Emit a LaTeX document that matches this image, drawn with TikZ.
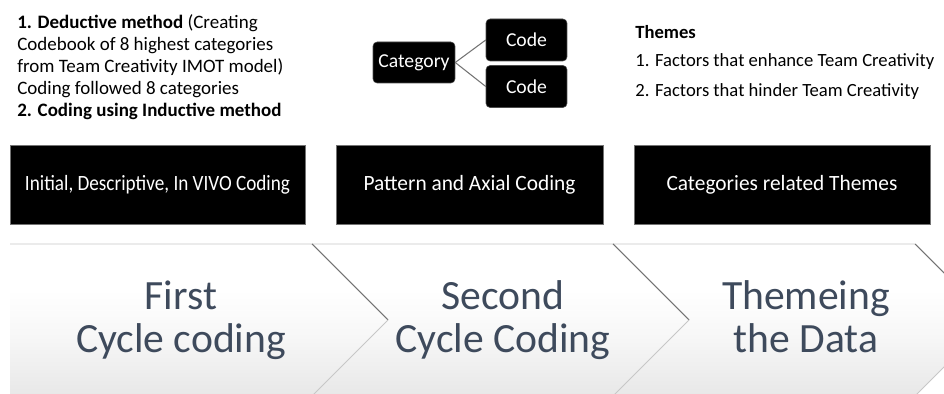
\documentclass[tikz,border=0pt]{standalone}
\usepackage{fontspec}
\setmainfont{Carlito}
\definecolor{slate}{RGB}{62,74,92}
\pgfdeclareverticalshading{band}{100bp}{color(0bp)=(black!17); color(45bp)=(black!3); color(60bp)=(white); color(100bp)=(white)}
\newcommand{\lnfix}{\vphantom{hg}}
\begin{document}
\begin{tikzpicture}[x=0.02cm,y=-0.02cm,
  catbox/.style={fill=black,text=white,rounded corners=2.3pt,inner sep=0pt,draw=black!70,line width=0.3pt,font=\fontsize{11.2}{13}\selectfont},
  stagebox/.style={fill=black,text=white,inner sep=0pt,draw=black!55,line width=0.4pt,minimum height=1.58cm,font=\fontsize{12.4}{14}\selectfont},
  conn/.style={draw=black!55,line width=0.6pt},
  chev/.style={shading=band},
  sepup/.style={draw=black!55,line width=0.6pt},
  seplo/.style={draw=black!22,line width=0.6pt},
  stagetxt/.style={text=slate,align=center,font=\fontsize{23.7}{24.4}\selectfont},
  toptxt/.style={inner sep=0pt,font=\fontsize{10.6}{12.6}\selectfont}]
\useasboundingbox (0,0) rectangle (944,394);
\begin{scope}
\clip (0,0) rectangle (944,394);
% chevrons
\path[chev] (10,244) -- (312,244) -- (388,320) -- (312,396) -- (10,396) -- cycle;
\path[chev] (312,244) -- (613,244) -- (689,320) -- (613,396) -- (312,396) -- (388,320) -- cycle;
\path[chev] (613,244) -- (915,244) -- (991,320) -- (915,396) -- (613,396) -- (689,320) -- cycle;
\draw[black!8,line width=0.6pt] (10,244) -- (915,244);
\coordinate (t1) at (312,244); \coordinate (p1) at (388,320); \coordinate (b1) at (312,396);
\coordinate (t2) at (613,244); \coordinate (p2) at (689,320); \coordinate (b2) at (613,396);
\coordinate (t3) at (915,244); \coordinate (p3) at (991,320); \coordinate (b3) at (915,396);
\draw[sepup] (t1) -- (p1); \draw[seplo] (p1) -- (b1);
\draw[sepup] (t2) -- (p2); \draw[seplo] (p2) -- (b2);
\draw[sepup] (t3) -- (p3); \draw[seplo] (p3) -- (b3);
\end{scope}
\node[stagetxt] (s1) at (181,320) {First\lnfix\\Cycle coding\lnfix};
\node[stagetxt] (s2) at (503,320) {Second\lnfix\\Cycle Coding\lnfix};
\node[stagetxt] (s3) at (806,320) {Themeing\lnfix\\the Data\lnfix};
% stage boxes
\node[stagebox,minimum width=5.9cm] (b1box) at (157.5,184.5) {\scalebox{0.88}[1]{Initial, Descriptive, In VIVO Coding}};
\node[stagebox,minimum width=5.34cm] (b2box) at (469.5,184.5) {\scalebox{0.98}[1]{Pattern and Axial Coding}};
\node[stagebox,minimum width=5.92cm] (b3box) at (782,184.5) {\scalebox{0.98}[1]{Categories related Themes}};
% top left text
\node[toptxt,anchor=north west,align=left,font=\fontsize{10.8}{12.6}\selectfont] (ded) at (17,14)
 {\textbf{1. Deductive method} (Creating\\Codebook of 8 highest categories\\from Team Creativity IMOT model)\\Coding followed 8 categories\\\textbf{2. Coding using Inductive method}};
% category tree
\node[catbox,minimum width=1.64cm,minimum height=0.82cm] (cat) at (414,62.5) {Category};
\node[catbox,minimum width=1.62cm,minimum height=0.84cm] (code1) at (526.5,40) {Code};
\node[catbox,minimum width=1.62cm,minimum height=0.84cm] (code2) at (526.5,86.5) {Code};
\draw[conn] (cat.east) -- (code1.west);
\draw[conn] (cat.east) -- (code2.west);
% themes
\node[toptxt,anchor=base west] (themes) at (635,39) {\textbf{Themes}};
\node[toptxt,anchor=base west] (th1) at (635,67) {1. Factors that enhance Team Creativity};
\node[toptxt,anchor=base west] (th2) at (635,97) {2. Factors that hinder Team Creativity};
\end{tikzpicture}
\end{document}
